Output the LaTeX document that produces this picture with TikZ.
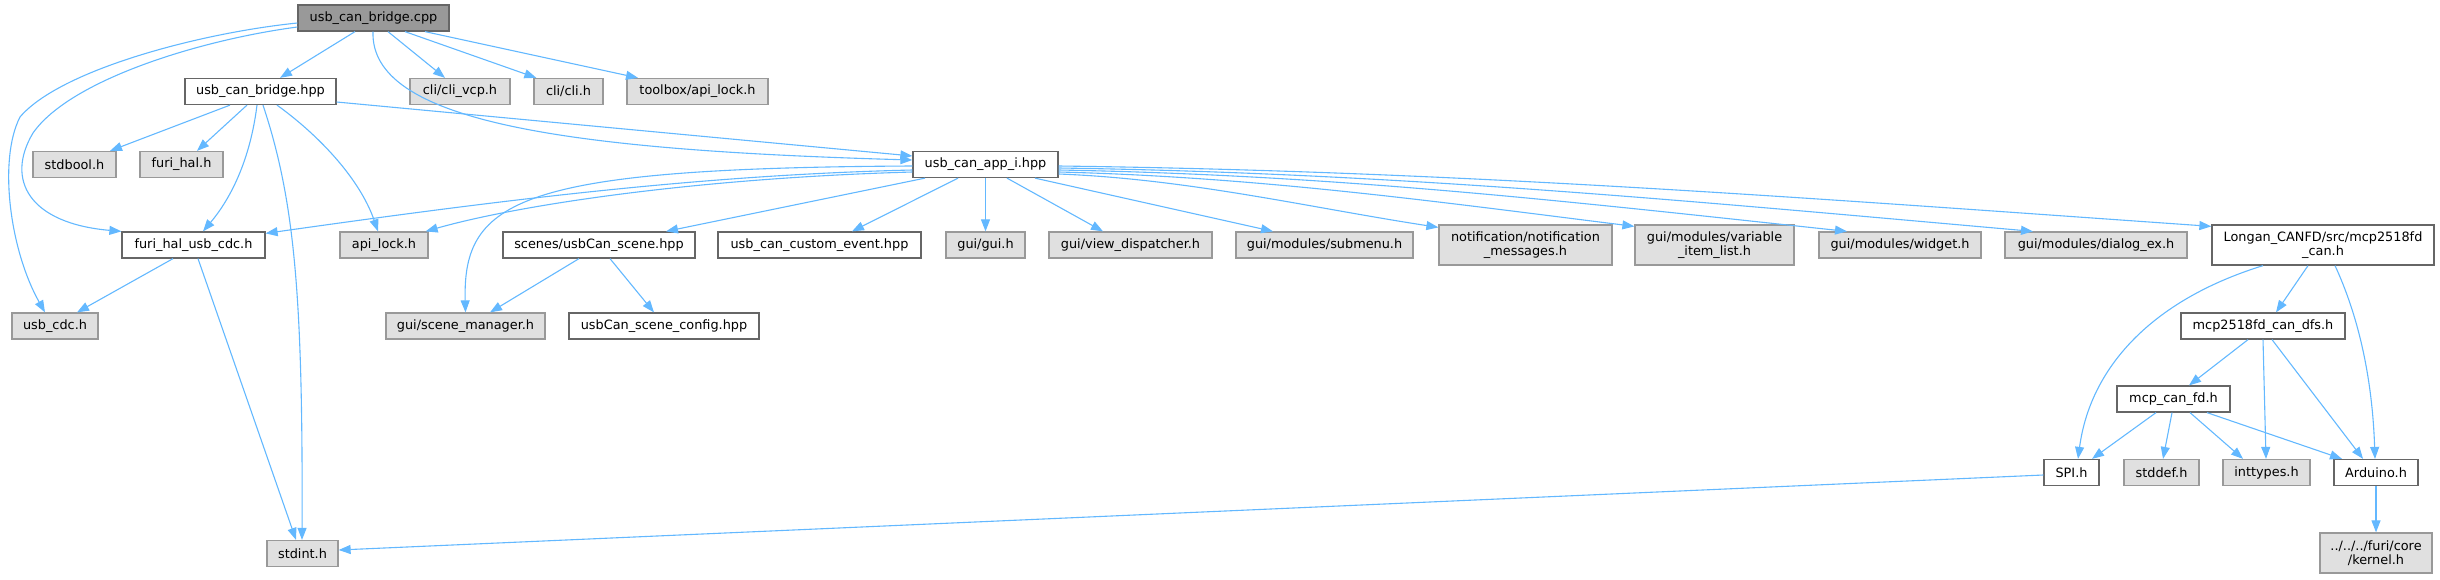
\documentclass[tikz,border=0pt]{standalone}
\usepackage{fontspec}
\setmainfont{DejaVu Sans}
\usetikzlibrary{arrows.meta}
\definecolor{edgeblue}{HTML}{63B8FF}
\definecolor{extfill}{HTML}{E0E0E0}
\definecolor{extline}{HTML}{999999}
\definecolor{srcline}{HTML}{666666}
\definecolor{mainfill}{HTML}{999999}

\begin{document}
\begin{tikzpicture}[x=1pt, y=-1pt,
  >={Triangle[length=12pt, width=9pt]},
  srcbox/.style={draw=srcline, fill=white, line width=1.25pt, inner sep=0pt, minimum height=26pt, align=center, font=\fontsize{12.85}{14.3}\selectfont},
  extbox/.style={srcbox, draw=extline, fill=extfill},
  mainbox/.style={srcbox, fill=mainfill},
  dep/.style={->, draw=edgeblue, line width=1.1pt}]
  \useasboundingbox (0,0) rectangle (2440,579);
  \node[mainbox, minimum width=151pt] (cpp) at (373.5,18) {usb\_can\_bridge.cpp};
  \node[srcbox, minimum width=151pt] (hpp) at (260.5,91.5) {usb\_can\_bridge.hpp};
  \node[extbox, minimum width=100pt] (clivcp) at (460,91.5) {cli/cli\_vcp.h};
  \node[extbox, minimum width=69pt] (cli) at (568.5,91.5) {cli/cli.h};
  \node[extbox, minimum width=141pt] (tblock) at (697.5,91.5) {toolbox/api\_lock.h};
  \node[extbox, minimum width=83pt] (stdbool) at (74.5,164.5) {stdbool.h};
  \node[extbox, minimum width=83pt] (furihal) at (181.5,164.5) {furi\_hal.h};
  \node[srcbox, minimum width=145pt] (appi) at (985.5,164.5) {usb\_can\_app\_i.hpp};
  \node[srcbox, minimum width=143pt] (fhusb) at (193.5,245) {furi\_hal\_usb\_cdc.h};
  \node[extbox, minimum width=88pt] (apilock) at (384,245) {api\_lock.h};
  \node[srcbox, minimum width=192pt] (scene) at (599,245) {scenes/usbCan\_scene.hpp};
  \node[srcbox, minimum width=203pt] (custev) at (819.5,245) {usb\_can\_custom\_event.hpp};
  \node[extbox, minimum width=79pt] (gui) at (985.5,245) {gui/gui.h};
  \node[extbox, minimum width=163pt] (viewdisp) at (1130.5,245) {gui/view\_dispatcher.h};
  \node[extbox, minimum width=177pt] (submenu) at (1324.5,245) {gui/modules/submenu.h};
  \node[extbox, minimum width=173pt, minimum height=40pt] (notif) at (1525.5,245) {notification/notification\\\_messages.h};
  \node[extbox, minimum width=159pt, minimum height=40pt] (varlist) at (1714.5,245) {gui/modules/variable\\\_item\_list.h};
  \node[extbox, minimum width=162pt] (widget) at (1900,245) {gui/modules/widget.h};
  \node[extbox, minimum width=182pt] (dialog) at (2096,245) {gui/modules/dialog\_ex.h};
  \node[srcbox, minimum width=222pt, minimum height=40pt] (longan) at (2323,245) {Longan\_CANFD/src/mcp2518fd\\\_can.h};
  \node[extbox, minimum width=86pt] (usbcdc) at (55,326) {usb\_cdc.h};
  \node[extbox, minimum width=159pt] (scenemgr) at (465.5,326) {gui/scene\_manager.h};
  \node[srcbox, minimum width=190pt] (scenecfg) at (664,326) {usbCan\_scene\_config.hpp};
  \node[srcbox, minimum width=164pt] (dfs) at (2263,326) {mcp2518fd\_can\_dfs.h};
  \node[srcbox, minimum width=113pt] (canfd) at (2173.5,399) {mcp\_can\_fd.h};
  \node[srcbox, minimum width=55pt] (spi) at (2071.5,472.5) {SPI.h};
  \node[extbox, minimum width=75pt] (stddef) at (2161.5,472.5) {stddef.h};
  \node[extbox, minimum width=87pt] (inttypes) at (2266.5,472.5) {inttypes.h};
  \node[srcbox, minimum width=84pt] (arduino) at (2376,472.5) {Arduino.h};
  \node[extbox, minimum width=71pt] (stdint) at (302.5,553.5) {stdint.h};
  \node[extbox, minimum width=112pt, minimum height=40pt] (kernel) at (2376,553) {../../../furi/core\\/kernel.h};

  \draw[dep] ([xshift=-18.5pt]cpp.south) -- ([xshift=19.5pt]hpp.north);
  \draw[dep] ([xshift=14.5pt]cpp.south) -- ([xshift=-15pt]clivcp.north);
  \draw[dep] ([xshift=31.5pt]cpp.south) -- ([xshift=3pt]cli.north west);
  \draw[dep] ([xshift=51.5pt]cpp.south) -- ([xshift=-59.5pt]tblock.north);
  \draw[dep] ([xshift=-0.5pt]cpp.south) .. controls +(-3,89) and +(-353,-10) .. ([yshift=4.5pt]appi.west);
  \draw[dep] ([yshift=-5pt]cpp.west) .. controls +(-98,10) and +(40,-47) .. (20,117)
    .. controls +(-22,43) and +(-35,-62) .. ([xshift=-10pt]usbcdc.north);
  \draw[dep] ([yshift=-9pt]cpp.west) .. controls +(-98,13) and +(37,-53) .. (33,133)
    .. controls +(-28,47) and +(-92,-8) .. (fhusb.north west);

  \draw[dep] ([xshift=-30.5pt]hpp.south) -- ([xshift=35.5pt]stdbool.north);
  \draw[dep] ([xshift=-13.5pt]hpp.south) -- ([xshift=15.5pt]furihal.north);
  \draw[dep] ([xshift=-3.5pt]hpp.south) .. controls +(-7,56) and +(27,-32) .. ([xshift=9.5pt]fhusb.north);
  \draw[dep] ([xshift=2.5pt]hpp.south) .. controls +(32,96) and +(1,-241) .. ([xshift=-0.5pt]stdint.north);
  \draw[dep] ([xshift=16.5pt]hpp.south) .. controls +(43,31) and +(-18,-52) .. ([xshift=-6pt]apilock.north);
  \draw[dep] ([yshift=-10.5pt]hpp.east) -- ([yshift=8.5pt]appi.west);

  \draw[dep] ([yshift=-5.5pt]appi.west) .. controls +(-213,5) and +(233,-33) .. ([yshift=-2pt]fhusb.north east);
  \draw[dep] ([yshift=-7.5pt]appi.west) .. controls +(-213,6) and +(95,-27) .. ([xshift=-3pt]apilock.north east);
  \draw[dep] ([yshift=-1.5pt]appi.west) .. controls +(-393,2) and +(-3,-113) .. (scenemgr.north);
  \draw[dep] ([xshift=-60.5pt]appi.south) -- ([xshift=67pt]scene.north);
  \draw[dep] ([xshift=-27.5pt]appi.south) -- ([xshift=32.5pt]custev.north);
  \draw[dep] (appi.south) -- (gui.north);
  \draw[dep] ([xshift=21.5pt]appi.south) -- ([xshift=-27.5pt]viewdisp.north);
  \draw[dep] ([xshift=49.5pt]appi.south) -- ([xshift=-51.5pt]submenu.north);
  \draw[dep] ([yshift=-9.5pt]appi.east) .. controls +(130,5) and +(-130,-20) .. ([yshift=-3pt]notif.north west);
  \draw[dep] ([yshift=-7.5pt]appi.east) .. controls +(200,5) and +(-200,-25) .. ([yshift=-2pt]varlist.north west);
  \draw[dep] ([yshift=-5.5pt]appi.east) .. controls +(280,5) and +(-280,-30) .. ([xshift=-53pt]widget.north);
  \draw[dep] ([yshift=-3.5pt]appi.east) .. controls +(340,5) and +(-340,-30) .. ([xshift=-63pt]dialog.north);
  \draw[dep] ([yshift=-1.5pt]appi.east) .. controls +(400,5) and +(-400,-28) .. ([yshift=-2pt]longan.north west);

  \draw[dep] ([xshift=-20.5pt]fhusb.south) -- ([xshift=22pt]usbcdc.north);
  \draw[dep] ([xshift=4.5pt]fhusb.south) -- ([xshift=-6.5pt]stdint.north);
  \draw[dep] ([xshift=-20pt]scene.south) -- ([xshift=24.5pt]scenemgr.north);
  \draw[dep] ([xshift=11pt]scene.south) -- ([xshift=-10pt]scenecfg.north);

  \draw[dep] ([xshift=-60pt]longan.south) .. controls +(-113,35) and +(12,-90) .. ([xshift=6.5pt]spi.north);
  \draw[dep] ([xshift=-15pt]longan.south) -- ([xshift=13pt]dfs.north);
  \draw[dep] ([xshift=12pt]longan.south) .. controls +(30,65) and +(-2,-60) .. ([xshift=-1pt]arduino.north);
  \draw[dep] ([xshift=-15pt]dfs.south) -- ([xshift=15.5pt]canfd.north);
  \draw[dep] (dfs.south) -- ([xshift=-0.5pt]inttypes.north);
  \draw[dep] ([xshift=9pt]dfs.south) -- ([xshift=-13pt]arduino.north);
  \draw[dep] ([xshift=-17.5pt]canfd.south) -- ([xshift=20.5pt]spi.north);
  \draw[dep] ([xshift=-1.5pt]canfd.south) -- ([xshift=1.5pt]stddef.north);
  \draw[dep] ([xshift=16.5pt]canfd.south) -- ([xshift=-23.5pt]inttypes.north);
  \draw[dep] ([xshift=33.5pt]canfd.south) -- ([xshift=-34pt]arduino.north);
  \draw[dep] ([yshift=-2.5pt]spi.west) -- ([yshift=3.5pt]stdint.east);
  \draw[dep] (arduino.south) -- (kernel.north);
\end{tikzpicture}
\end{document}
